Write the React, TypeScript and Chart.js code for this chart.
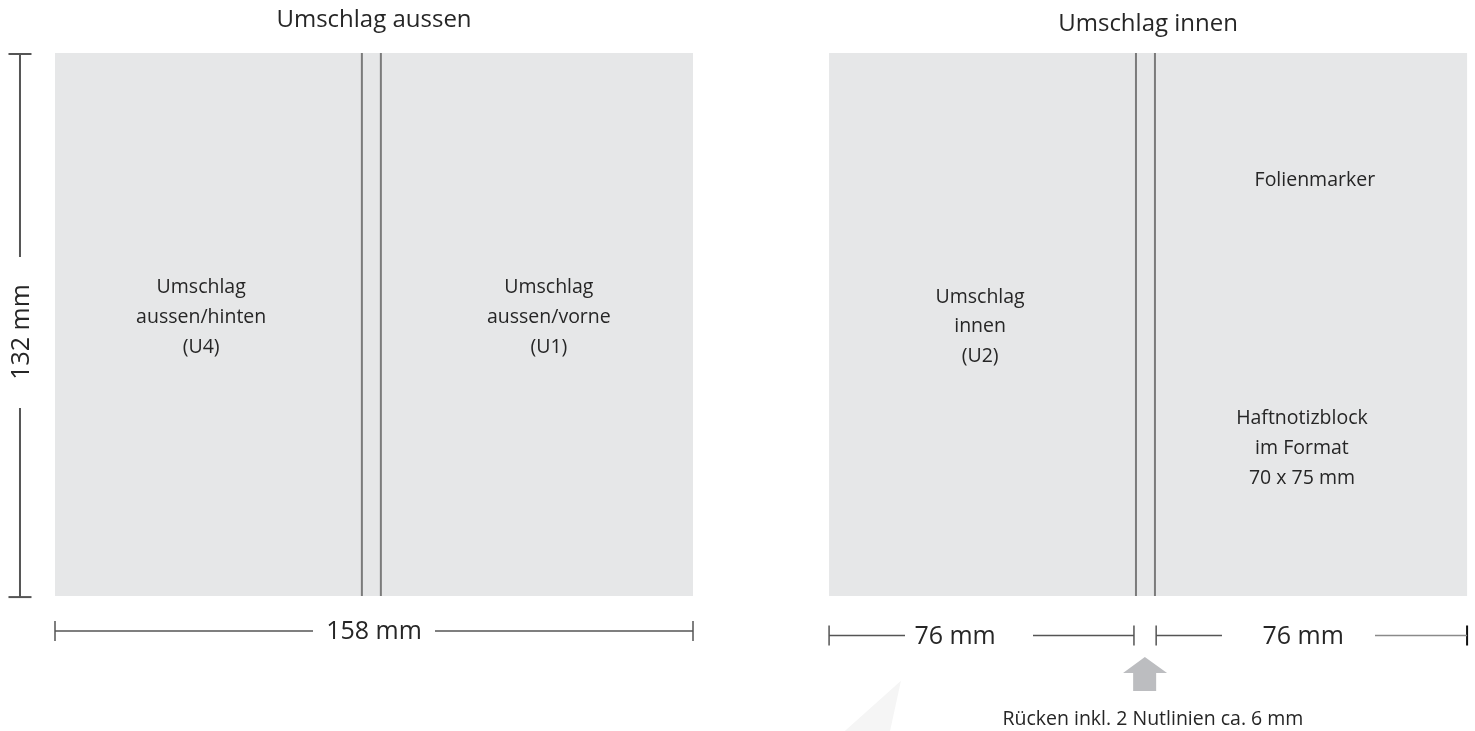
import React, { useEffect, useRef } from "react";
import { Chart, registerables } from "chart.js";
Chart.register(...registerables);

// ---- diagram values (millimetres) ----
const panelTitles = ["Umschlag aussen", "Umschlag innen"];
const coverWidthMm = 158;
const coverHeightMm = 132;
const pageWidthMm = 76;
const spineDrawnMm = 4.7;
const innenOffsetMm = 191.7;
const outerLabels = [
  ["Umschlag", "aussen/hinten", "(U4)"],
  ["Umschlag", "aussen/vorne", "(U1)"],
];
const innerLabels = [
  ["Umschlag", "innen", "(U2)"],
  ["Folienmarker"],
  ["Haftnotizblock", "im Format", "70 x 75 mm"],
];
const dimensionLabels = ["132 mm", "158 mm", "76 mm", "76 mm"];
const spineNote = "Rücken inkl. 2 Nutlinien ca. 6 mm";

// ---- view window (mm) ----
const X_MIN = -13.62;
const X_MAX = 351.66;
const Y_MIN = -12.88;
const Y_MAX = 164.8;

const FONT = "'Open Sans', 'Noto Sans', sans-serif";
const PANEL = "#e6e7e8";
const SPINE = "#7b7b7b";
const DIM = "#555555";

type P = { x: number; y: number };

function poly(points: P[], color: string, order = 0) {
  return {
    type: "line" as const,
    data: [...points, points[0]],
    fill: "shape" as const,
    backgroundColor: color,
    borderColor: color,
    borderWidth: 0,
    pointRadius: 0,
    tension: 0,
    clip: false as const,
    order,
  };
}
function rect(x0: number, x1: number, y0: number, y1: number, color: string, order = 0) {
  return poly(
    [
      { x: x0, y: y0 },
      { x: x1, y: y0 },
      { x: x1, y: y1 },
      { x: x0, y: y1 },
    ],
    color,
    order
  );
}
function seg(a: P, b: P, color: string, width: number) {
  return {
    type: "line" as const,
    data: [a, b],
    fill: false,
    borderColor: color,
    borderWidth: width,
    pointRadius: 0,
    tension: 0,
    clip: false as const,
    order: 0,
  };
}

export default function App() {
  const ref = useRef<HTMLCanvasElement | null>(null);

  useEffect(() => {
    if (!ref.current) return;
    const W = coverWidthMm;
    const H = coverHeightMm;
    const o = innenOffsetMm;
    const ds: any[] = [];

    // faint artefact triangle
    ds.push(
      poly(
        [
          { x: 209.5, y: 152.6 },
          { x: 195.6, y: 164.8 },
          { x: 206.8, y: 164.8 },
        ],
        "#f5f5f5",
        10
      )
    );

    // panels (drawn underneath)
    ds.push(rect(0, W, 0, H, PANEL, 10));
    ds.push(rect(o, o + W, 0, H, PANEL, 10));
    // spine lines
    for (const base of [0, o]) {
      ds.push(seg({ x: base + pageWidthMm, y: 0 }, { x: base + pageWidthMm, y: H }, SPINE, 2));
      ds.push(
        seg(
          { x: base + pageWidthMm + spineDrawnMm, y: 0 },
          { x: base + pageWidthMm + spineDrawnMm, y: H },
          SPINE,
          2
        )
      );
    }

    // vertical dimension (132 mm)
    const vx = -8.67;
    ds.push(seg({ x: vx, y: 0.25 }, { x: vx, y: 49.6 }, DIM, 2));
    ds.push(seg({ x: vx, y: 86.3 }, { x: vx, y: H + 0.25 }, DIM, 2));
    ds.push(seg({ x: vx - 2.85, y: 0.25 }, { x: vx + 2.85, y: 0.25 }, DIM, 2));
    ds.push(seg({ x: vx - 2.85, y: H + 0.25 }, { x: vx + 2.85, y: H + 0.25 }, DIM, 2));

    // horizontal dimension (158 mm)
    const hy = 140.5;
    ds.push(seg({ x: 0, y: hy }, { x: 63.9, y: hy }, DIM, 1.5));
    ds.push(seg({ x: 94.1, y: hy }, { x: W, y: hy }, DIM, 1.5));
    ds.push(seg({ x: 0, y: hy - 2.43 }, { x: 0, y: hy + 2.43 }, DIM, 1.5));
    ds.push(seg({ x: W, y: hy - 2.43 }, { x: W, y: hy + 2.43 }, DIM, 1.5));

    // right dimensions (76 mm / 76 mm)
    const ry = 141.6;
    ds.push(seg({ x: o, y: ry }, { x: 210.5, y: ry }, DIM, 1.5));
    ds.push(seg({ x: 242.2, y: ry }, { x: 267.2, y: ry }, DIM, 1.5));
    ds.push(seg({ x: 272.7, y: ry }, { x: 289.0, y: ry }, DIM, 1.5));
    ds.push(seg({ x: 326.9, y: ry }, { x: o + W, y: ry }, "#8a8a8a", 1.5));
    for (const tx of [o, 267.2, 272.7]) {
      ds.push(seg({ x: tx, y: ry - 2.43 }, { x: tx, y: ry + 2.43 }, DIM, 1.5));
    }
    ds.push(seg({ x: o + W, y: ry - 2.43 }, { x: o + W, y: ry + 2.43 }, "#111111", 2));

    // arrow
    ds.push(
      poly(
        [
          { x: 269.9, y: 146.8 },
          { x: 275.4, y: 150.7 },
          { x: 272.7, y: 150.7 },
          { x: 272.7, y: 155.1 },
          { x: 267.0, y: 155.1 },
          { x: 267.0, y: 150.7 },
          { x: 264.5, y: 150.7 },
        ],
        "#bcbdc0"
      )
    );

    type T = { text: string; x: number; y: number; size: number; rot?: boolean; color?: string };
    const texts: T[] = [];
    texts.push({ text: panelTitles[0], x: W / 2, y: -8.0, size: 24 });
    texts.push({ text: panelTitles[1], x: o + W / 2, y: -7.05, size: 24 });
    const lineStep = 7.2;
    const addBlock = (lines: string[], x: number, y0: number) =>
      lines.forEach((t, i) => texts.push({ text: t, x, y: y0 + i * lineStep, size: 19.5 }));
    addBlock(outerLabels[0], 36.2, 57.1);
    addBlock(outerLabels[1], 122.3, 57.1);
    addBlock(innerLabels[0], 229.1, 59.3);
    addBlock(innerLabels[1], 312.0, 31.0);
    addBlock(innerLabels[2], 308.8, 88.9);
    texts.push({ text: dimensionLabels[0], x: -8.17, y: 67.8, size: 25, rot: true });
    texts.push({ text: dimensionLabels[1], x: W / 2, y: 140.7, size: 25 });
    texts.push({ text: dimensionLabels[2], x: 222.9, y: 142.0, size: 25 });
    texts.push({ text: dimensionLabels[3], x: 309.1, y: 142.0, size: 25 });
    texts.push({ text: spineNote, x: 271.9, y: 161.9, size: 19.5 });

    const textPlugin = {
      id: "diagramText",
      afterDatasetsDraw(chart: any) {
        const ctx = chart.ctx as CanvasRenderingContext2D;
        const sx = chart.scales.x;
        const sy = chart.scales.y;
        ctx.save();
        ctx.textAlign = "center";
        ctx.textBaseline = "middle";
        for (const t of texts) {
          const px = sx.getPixelForValue(t.x);
          const py = sy.getPixelForValue(t.y);
          ctx.font = `${t.size}px ${FONT}`;
          ctx.fillStyle = t.color || "#262626";
          if (t.rot) {
            ctx.save();
            ctx.translate(px, py);
            ctx.rotate(-Math.PI / 2);
            ctx.fillText(t.text, 0, 0);
            ctx.restore();
          } else {
            ctx.fillText(t.text, px, py);
          }
        }
        ctx.restore();
      },
    };

    const chart = new Chart(ref.current, {
      type: "line",
      data: { datasets: ds },
      options: {
        animation: false,
        responsive: true,
        maintainAspectRatio: false,
        layout: { padding: 0 },
        plugins: { legend: { display: false }, tooltip: { enabled: false } },
        events: [],
        scales: {
          x: { type: "linear", min: X_MIN, max: X_MAX, display: false },
          y: { type: "linear", min: Y_MIN, max: Y_MAX, reverse: true, display: false },
        },
      },
      plugins: [textPlugin],
    });
    return () => chart.destroy();
  }, []);

  return (
    <div
      style={{
        position: "fixed",
        left: 0,
        top: 0,
        width: 1475,
        height: 731,
        background: "#ffffff",
      }}
    >
      <canvas ref={ref} />
    </div>
  );
}
